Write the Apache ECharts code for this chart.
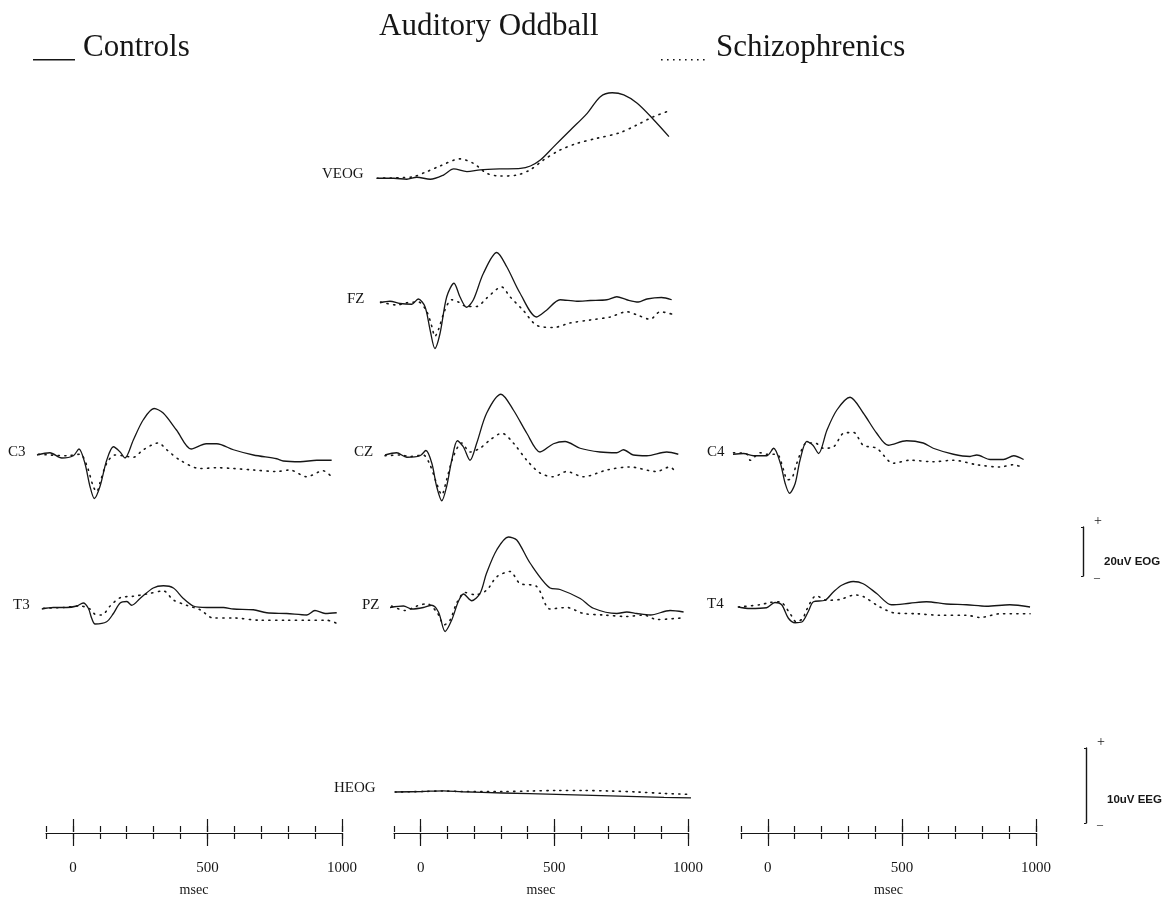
<!DOCTYPE html>
<html><head><meta charset="utf-8">
<script src="https://cdn.jsdelivr.net/npm/echarts@6/dist/echarts.min.js"></script>
<style>html,body{margin:0;padding:0;background:#fff}#c{width:1171px;height:901px}</style>
</head><body><div id="c"></div>
<script>
// ---- DATA: [time (ms), amplitude (uV)] ----
const timeTicks = [-100, 0, 100, 200, 300, 400, 500, 600, 700, 800, 900, 1000];
const timeLabels = [0, 500, 1000];

const VEOG_ctrl = [[-100,-0.1],[-38,-0.1],[11,-0.5],[48,0.3],[98,-0.5],[147,1.2],[185,3.7],[234,2.6],[284,3.3],[358,3.7],[433,3.9],[470,4.9],[507,7.3],[557,12.8],[619,19.6],[681,26.4],[730,33.2],[774,34.8],[817,33.9],[867,30.5],[929,23.7],[985,16.9]];
const VEOG_scz = [[-100,-0.1],[-50,0],[0,0.2],[35,0.5],[85,2.6],[134,4.9],[209,7.8],[258,6.0],[308,1.9],[357,0.8],[419,1.2],[469,3.3],[518,7.3],[580,11.4],[642,14.1],[717,16.2],[803,18.5],[865,21.6],[927,25.0],[989,27.5]];

const FZ_ctrl = [[-100,-0.1],[-63,0.1],[-26,-0.2],[18,-0.3],[42,0.4],[67,-0.6],[86,-3.7],[104,-6.2],[123,-4.2],[148,0.7],[175,2.5],[197,0.7],[222,-0.7],[247,0.3],[284,3.8],[334,6.6],[371,4.7],[420,1.2],[482,-2.0],[519,-1.1],[569,0.3],[631,0.1],[681,0.2],[743,0.3],[780,0.7],[817,0.3],[860,0],[892,0.4],[946,0.6],[984,0.3]];
const FZ_scz = [[-98,0],[-38,-0.4],[0,-0.1],[43,0],[74,-1.3],[93,-3.3],[104,-4.6],[117,-3.7],[141,-1.1],[166,0.3],[191,0],[222,-0.6],[259,-0.6],[296,0.5],[352,2.0],[383,0.7],[432,-1.1],[482,-3.1],[544,-3.4],[606,-2.8],[681,-2.4],[755,-2.0],[817,-1.3],[854,-1.7],[904,-2.3],[941,-1.3],[984,-1.6]];

const C3_ctrl = [[-100,0],[-52,0.3],[-8,-0.4],[35,-0.1],[56,0.8],[78,-1.1],[97,-4.2],[113,-5.8],[134,-4.2],[159,-0.7],[184,1.1],[209,0.4],[227,-0.4],[258,2.0],[295,4.7],[335,6.2],[369,5.6],[419,3.3],[473,0.8],[529,1.5],[568,1.5],[630,0.7],[704,0],[791,-0.5],[815,-0.8],[878,-0.9],[940,-0.7],[995,-0.7]];
const C3_scz = [[-95,0.1],[-52,0],[10,-0.1],[60,0.1],[87,-1.6],[109,-4.2],[122,-4.9],[134,-3.7],[159,-1.1],[190,0],[221,-0.1],[258,-0.3],[295,0.7],[351,1.6],[382,0.7],[432,-0.7],[506,-1.8],[568,-1.7],[630,-1.8],[704,-2.0],[791,-2.2],[840,-2.0],[902,-2.9],[964,-2.1],[989,-2.7]];

const CZ_ctrl = [[-100,0],[-57,0.3],[-19,-0.3],[30,-0.1],[52,0.6],[74,-1.1],[92,-4.2],[111,-6.1],[129,-4.2],[148,-0.7],[169,1.9],[191,1.1],[216,-0.7],[241,1.6],[278,5.6],[331,8.1],[377,6.0],[427,2.9],[476,0.4],[526,1.5],[569,1.8],[625,0.9],[699,0.4],[761,0.3],[786,0.7],[823,0],[873,-0.1],[947,0.4],[990,0.1]];
const CZ_scz = [[-100,-0.1],[-44,0],[-7,-0.2],[42,0],[67,-1.3],[92,-3.8],[111,-5.3],[129,-3.3],[154,-0.2],[185,1.6],[216,0.4],[253,0.9],[290,2.0],[334,2.9],[377,1.6],[427,-0.7],[476,-2.4],[526,-2.9],[575,-2.2],[637,-2.9],[724,-2.0],[810,-1.6],[909,-2.2],[958,-1.6],[977,-2.1]];

const C4_ctrl = [[-100,0.1],[-61,0.2],[-24,-0.1],[26,-0.1],[51,0.9],[76,-1.1],[94,-3.8],[110,-5.1],[131,-3.8],[149,-0.7],[174,1.8],[197,1.3],[218,0.2],[249,3.3],[286,6.0],[335,7.7],[384,5.6],[434,2.9],[477,1.3],[545,1.9],[607,1.6],[644,0.9],[719,0.1],[781,-0.2],[806,0],[856,-0.6],[905,-0.6],[943,-0.1],[980,-0.6]];
const C4_scz = [[-98,0.3],[-48,0.1],[-36,-0.7],[1,0.3],[26,0.1],[63,0.1],[88,-2.0],[102,-3.3],[119,-3.1],[137,-1.1],[174,1.6],[205,1.6],[236,0.9],[274,1.1],[311,2.9],[348,3.0],[384,1.3],[434,0.9],[496,-1.1],[558,-0.7],[644,-0.9],[719,-0.7],[806,-1.3],[892,-1.6],[942,-1.3],[973,-1.6]];

const T3_ctrl = [[-97,0],[-54,0.2],[-4,0.2],[33,0.4],[57,0.8],[76,0.1],[88,-1.2],[101,-2.0],[144,-1.7],[169,-0.6],[194,0.8],[219,1.0],[237,0.5],[268,1.4],[317,2.8],[355,3.1],[392,2.8],[429,1.4],[466,0.4],[516,0.2],[578,0.2],[615,0],[689,-0.1],[739,-0.5],[813,-0.6],[888,-0.8],[918,-0.2],[956,-0.6],[999,-0.5]];
const T3_scz = [[-91,0.1],[-17,0.2],[45,0.4],[82,0],[101,-0.7],[126,-0.8],[157,0.4],[194,1.5],[243,1.7],[293,2.0],[355,2.4],[392,1.2],[441,0.5],[491,-0.1],[540,-1.2],[615,-1.2],[714,-1.5],[813,-1.5],[888,-1.5],[962,-1.5],[999,-1.9]];

const PZ_ctrl = [[-100,-0.2],[-50,0],[-19,-0.4],[24,-0.2],[55,0.1],[80,-0.8],[105,-3.4],[129,-1.9],[154,0.6],[173,1.6],[204,0.7],[235,1.7],[259,4.4],[297,7.5],[340,9.2],[371,8.8],[421,5.7],[495,2.4],[532,2.2],[607,1.0],[656,-0.3],[743,-1.0],[780,-0.8],[817,-1.0],[867,-1.2],[941,-0.6],[991,-0.8]];
const PZ_scz = [[-94,0],[-44,-0.6],[0,0],[37,0.3],[74,-0.8],[102,-2.5],[123,-1.9],[148,0.4],[179,1.8],[216,1.5],[259,2.1],[297,3.9],[346,4.6],[383,3.0],[445,2.6],[495,-0.4],[557,-0.2],[619,-1.0],[693,-1.2],[780,-1.4],[842,-1.2],[892,-1.8],[984,-1.6]];

const T4_ctrl = [[-95,0],[-52,-0.2],[10,-0.1],[41,0.6],[66,0.3],[91,-1.5],[116,-2.1],[141,-2.0],[165,-0.6],[184,0.7],[227,0.9],[258,2.0],[289,2.9],[332,3.4],[369,3.1],[419,1.8],[474,0.3],[542,0.5],[604,0.7],[678,0.4],[753,0.3],[827,0.1],[914,0.3],[989,0]];
const T4_scz = [[-95,0],[-15,0.3],[22,0.6],[59,0.7],[96,-0.8],[121,-2.0],[145,-1.5],[158,-0.4],[195,1.5],[232,0.9],[282,1.0],[338,1.6],[369,1.4],[431,0],[487,-0.8],[568,-0.9],[654,-1.1],[753,-1.1],[803,-1.4],[878,-0.9],[989,-0.9]];

const HEOG_ctrl = [[-100,0],[0,0.2],[80,0.5],[150,0.1],[300,-0.4],[500,-1.0],[700,-1.6],[900,-2.2],[1000,-2.4]];
const HEOG_scz = [[-100,0],[0,0.2],[80,0.4],[150,0.2],[300,0.2],[400,0.4],[500,0.6],[600,0.6],[700,0.4],[800,0],[900,-0.6],[1000,-1.0]];

const scaleBars = [{label:'20uV EOG', uV:20}, {label:'10uV EEG', uV:10}];

// ---- LAYOUT / STYLE ----
const INK = '#161616';
const SERIF = '"Liberation Serif","Times New Roman",serif';
const NARROW = '"Liberation Sans Narrow","Liberation Sans",sans-serif';
const EEG_PX = 7.5;   // px per uV
const EOG_PX = 2.45;  // px per uV
const PANEL_W = 296;

const panels = [
  {ch:'VEOG', ctrl:VEOG_ctrl, scz:VEOG_scz, left:377, base:178, eog:true, lx:322, ly:174},
  {ch:'FZ',   ctrl:FZ_ctrl,   scz:FZ_scz,   left:380, base:302, eog:false, lx:347, ly:299},
  {ch:'C3',   ctrl:C3_ctrl,   scz:C3_scz,   left:37,  base:455, eog:false, lx:8,   ly:452},
  {ch:'CZ',   ctrl:CZ_ctrl,   scz:CZ_scz,   left:385, base:455, eog:false, lx:354, ly:452},
  {ch:'C4',   ctrl:C4_ctrl,   scz:C4_scz,   left:733, base:455, eog:false, lx:707, ly:452},
  {ch:'T3',   ctrl:T3_ctrl,   scz:T3_scz,   left:41,  base:609, eog:false, lx:13,  ly:605},
  {ch:'PZ',   ctrl:PZ_ctrl,   scz:PZ_scz,   left:390, base:606, eog:false, lx:362, ly:605},
  {ch:'T4',   ctrl:T4_ctrl,   scz:T4_scz,   left:737, base:607, eog:false, lx:707, ly:604},
  {ch:'HEOG', ctrl:HEOG_ctrl, scz:HEOG_scz, left:395, base:792, eog:true, lx:334, ly:788}
];
const timeAxes = [{left:46, width:296}, {left:394, width:294}, {left:741, width:295}];
const barLayout = [{x:1083, top:527, ty:562, scale:EOG_PX}, {x:1086, top:748, ty:800, scale:EEG_PX}];

const grid=[], xAxis=[], yAxis=[], series=[], graphic=[];
const lineSolid = {color:INK, width:1.3};
const lineDot = {color:INK, width:1.6, type:[1.2,5.4], cap:'round'};

panels.forEach(p => {
  const g = grid.length;
  const range = p.eog ? 40 : 10;
  const k = p.eog ? EOG_PX : EEG_PX;
  grid.push({left:p.left, top:p.base - range*k, width:PANEL_W, height:2*range*k});
  xAxis.push({gridIndex:g, type:'value', min:-100, max:1000, show:false});
  yAxis.push({gridIndex:g, type:'value', min:-range, max:range, show:false});
  series.push({name:'Controls', type:'line', xAxisIndex:g, yAxisIndex:g, data:p.ctrl,
    showSymbol:false, smooth:0.3, silent:true, lineStyle:lineSolid, itemStyle:{color:INK}, z:3});
  series.push({name:'Schizophrenics', type:'line', xAxisIndex:g, yAxisIndex:g, data:p.scz,
    showSymbol:false, smooth:0.3, silent:true, lineStyle:lineDot, itemStyle:{color:INK}, z:2});
  graphic.push({type:'text', x:p.lx, y:p.ly, style:{text:p.ch, font:'15px '+SERIF, fill:INK, verticalAlign:'middle'}});
});

const axLine = {color:INK, width:1.2};
timeAxes.forEach(a => {
  let g = grid.length;
  grid.push({left:a.left, top:832, width:a.width, height:1});
  yAxis.push({gridIndex:g, type:'value', show:false});
  xAxis.push({gridIndex:g, type:'value', position:'bottom', min:timeTicks[0], max:timeTicks[timeTicks.length-1], interval:100,
    axisLine:{show:true, lineStyle:axLine}, axisTick:{show:true, length:6, lineStyle:axLine},
    axisLabel:{show:false}, splitLine:{show:false},
    name:'msec', nameLocation:'middle', nameGap:50, nameTextStyle:{fontFamily:SERIF, fontSize:14, color:INK}});
  xAxis.push({gridIndex:g, type:'value', position:'top', min:timeTicks[0], max:timeTicks[timeTicks.length-1], interval:100,
    axisLine:{show:false}, axisTick:{show:true, length:6, lineStyle:axLine}, axisLabel:{show:false}, splitLine:{show:false}});
  g = grid.length;
  grid.push({left:a.left + a.width/11, top:832, width:a.width*10/11, height:1});
  yAxis.push({gridIndex:g, type:'value', show:false});
  xAxis.push({gridIndex:g, type:'value', position:'bottom', min:timeLabels[0], max:timeLabels[2], interval:500,
    axisLine:{show:false}, axisTick:{show:true, length:13, lineStyle:axLine},
    axisLabel:{show:true, margin:28, fontFamily:SERIF, fontSize:15, color:INK, formatter:v => String(v)}, splitLine:{show:false}});
  xAxis.push({gridIndex:g, type:'value', position:'top', min:timeLabels[0], max:timeLabels[2], interval:500,
    axisLine:{show:false}, axisTick:{show:true, length:13, lineStyle:axLine}, axisLabel:{show:false}, splitLine:{show:false}});
});

scaleBars.forEach((b, i) => {
  const L = barLayout[i];
  const g = grid.length;
  grid.push({left:L.x, top:L.top, width:1, height:b.uV*L.scale});
  xAxis.push({gridIndex:g, type:'value', show:false});
  yAxis.push({gridIndex:g, type:'value', min:0, max:b.uV, interval:b.uV, position:'left',
    axisLine:{show:true, lineStyle:{color:INK, width:1.4}}, axisTick:{show:true, length:2, lineStyle:{color:INK}},
    axisLabel:{show:false}, splitLine:{show:false}});
  graphic.push({type:'text', x:L.x+11, y:L.top-6, style:{text:'+', font:'14px '+SERIF, fill:INK, verticalAlign:'middle'}});
  graphic.push({type:'text', x:L.x+11, y:L.top+b.uV*L.scale+2, style:{text:'\u2013', font:'12px '+SERIF, fill:INK, verticalAlign:'middle'}});
  graphic.push({type:'text', x:L.x+21, y:L.ty, style:{text:b.label, font:'bold 11.5px '+NARROW, fill:INK, verticalAlign:'middle'}});
});

const chart = echarts.init(document.getElementById('c'));
chart.setOption({
  animation:false,
  backgroundColor:'#fff',
  title:{text:'Auditory Oddball', left:374, top:6, textStyle:{fontFamily:SERIF, fontSize:31, fontWeight:'normal', color:INK}},
  legend:[
    {data:['Controls'], left:28, top:27, selectedMode:false, itemWidth:45, itemHeight:26, itemGap:0,
      icon:'path://M0,0 L0.01,0 L0,0.01 Z M45,0 L44.99,0 L45,0.01 Z M0,24.6 L42,24.6 L42,26 L0,26 Z',
      itemStyle:{color:INK, borderWidth:0},
      textStyle:{fontFamily:SERIF, fontSize:31, color:INK}},
    {data:['Schizophrenics'], left:656, top:27, selectedMode:false, itemWidth:50, itemHeight:26, itemGap:0,
      icon:'path://M0,0 L0.01,0 L0,0.01 Z M50,0 L49.99,0 L50,0.01 Z M0,24.4 L1.6,24.4 L1.6,26 L0,26 Z M6,24.4 L7.6,24.4 L7.6,26 L6,26 Z M12,24.4 L13.6,24.4 L13.6,26 L12,26 Z M18,24.4 L19.6,24.4 L19.6,26 L18,26 Z M24,24.4 L25.6,24.4 L25.6,26 L24,26 Z M30,24.4 L31.6,24.4 L31.6,26 L30,26 Z M36,24.4 L37.6,24.4 L37.6,26 L36,26 Z M42,24.4 L43.6,24.4 L43.6,26 L42,26 Z',
      itemStyle:{color:INK, borderWidth:0},
      textStyle:{fontFamily:SERIF, fontSize:31, color:INK}}
  ],
  grid, xAxis, yAxis, series, graphic
});
</script></body></html>
